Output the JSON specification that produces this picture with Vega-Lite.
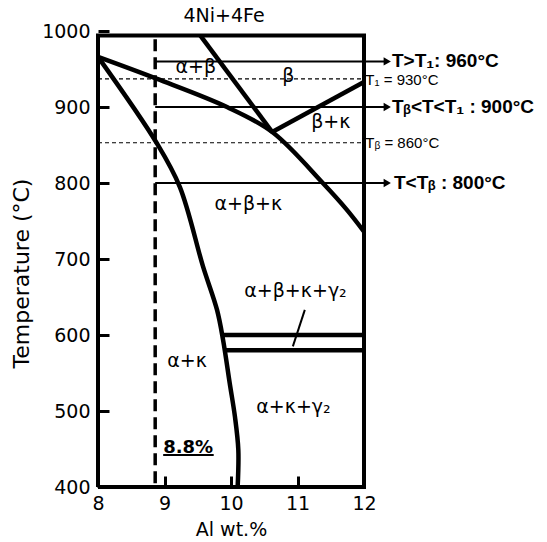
{
  "$schema": "https://vega.github.io/schema/vega-lite/v6.json",
  "width": 266,
  "height": 456,
  "autosize": {"type": "none"},
  "padding": {"left": 98, "top": 31, "right": 183, "bottom": 55},
  "background": "white",
  "title": {"text": "4Ni+4Fe", "font": "DejaVu Sans", "fontSize": 19, "fontWeight": "normal", "color": "black", "anchor": "middle", "offset": -4, "dx": -7},
  "config": {"view": {"stroke": null}},
  "datasets": {
    "frame": [
      {"o": 0, "x": 8, "T": 400}, {"o": 1, "x": 8, "T": 994}, {"o": 2, "x": 12, "T": 994}, {"o": 3, "x": 12, "T": 400}, {"o": 4, "x": 8, "T": 400}
    ],
    "bound": [
      {"id": "A", "o": 0, "x": 8, "T": 966}, {"id": "A", "o": 1, "x": 8.88, "T": 853}, {"id": "A", "o": 2, "x": 9.23, "T": 795}, {"id": "A", "o": 3, "x": 9.58, "T": 690}, {"id": "A", "o": 4, "x": 9.79, "T": 633}, {"id": "A", "o": 5, "x": 9.88, "T": 594}, {"id": "A", "o": 6, "x": 9.98, "T": 537}, {"id": "A", "o": 7, "x": 10.06, "T": 492}, {"id": "A", "o": 8, "x": 10.11, "T": 449}, {"id": "A", "o": 9, "x": 10.1, "T": 400},
      {"id": "B", "o": 0, "x": 8, "T": 966}, {"id": "B", "o": 1, "x": 8.89, "T": 937}, {"id": "B", "o": 2, "x": 9.94, "T": 900}, {"id": "B", "o": 3, "x": 10.62, "T": 867}, {"id": "B", "o": 4, "x": 11.38, "T": 800}, {"id": "B", "o": 5, "x": 11.74, "T": 765}, {"id": "B", "o": 6, "x": 12, "T": 736},
      {"id": "C", "o": 0, "x": 9.54, "T": 994}, {"id": "C", "o": 1, "x": 10.62, "T": 867},
      {"id": "D", "o": 0, "x": 10.62, "T": 867}, {"id": "D", "o": 1, "x": 12, "T": 933},
      {"id": "H600", "o": 0, "x": 9.87, "T": 600}, {"id": "H600", "o": 1, "x": 12, "T": 600},
      {"id": "H580", "o": 0, "x": 9.9, "T": 580}, {"id": "H580", "o": 1, "x": 12, "T": 580}
    ],
    "thin": [
      {"id": "a960", "o": 0, "x": 8.86, "T": 960}, {"id": "a960", "o": 1, "x": 12.32, "T": 960},
      {"id": "a900", "o": 0, "x": 8.86, "T": 900}, {"id": "a900", "o": 1, "x": 12.32, "T": 900},
      {"id": "a800", "o": 0, "x": 8.86, "T": 800}, {"id": "a800", "o": 1, "x": 12.32, "T": 800},
      {"id": "ptr", "o": 0, "x": 11.11, "T": 633}, {"id": "ptr", "o": 1, "x": 10.93, "T": 585},
      {"id": "ul", "o": 0, "x": 8.98, "T": 442}, {"id": "ul", "o": 1, "x": 9.74, "T": 442}
    ],
    "dashT": [
      {"id": "T1", "o": 0, "x": 8, "T": 937}, {"id": "T1", "o": 1, "x": 12, "T": 937},
      {"id": "Tb", "o": 0, "x": 8, "T": 853}, {"id": "Tb", "o": 1, "x": 12, "T": 853}
    ],
    "vdash": [
      {"o": 0, "x": 8.86, "T": 405}, {"o": 1, "x": 8.86, "T": 990}
    ],
    "heads": [
      {"x": 12.35, "T": 960}, {"x": 12.35, "T": 900}, {"x": 12.35, "T": 800}
    ],
    "regions": [
      {"x": 9.47, "T": 945, "label": "α+β"},
      {"x": 10.86, "T": 933, "label": "β"},
      {"x": 11.5, "T": 872, "label": "β+κ"},
      {"x": 10.26, "T": 765, "label": "α+β+κ"},
      {"x": 10.97, "T": 650, "label": "α+β+κ+γ₂"},
      {"x": 9.34, "T": 558, "label": "α+κ"},
      {"x": 10.94, "T": 497, "label": "α+κ+γ₂"}
    ],
    "small": [
      {"x": 12.02, "T": 935, "label": "T₁ = 930°C"},
      {"x": 12.02, "T": 853, "label": "Tᵦ = 860°C"}
    ],
    "bold": [
      {"x": 12.42, "T": 960, "label": "T>T₁: 960°C"},
      {"x": 12.42, "T": 900, "label": "Tᵦ<T<T₁ : 900°C"},
      {"x": 12.45, "T": 800, "label": "T<Tᵦ : 800°C"}
    ],
    "pct": [
      {"x": 8.98, "T": 445, "label": "8.8%"}
    ]
  },
  "encoding": {
    "x": {
      "field": "x", "type": "quantitative",
      "scale": {"domain": [8, 12], "nice": false, "zero": false},
      "axis": {"values": [8, 9, 10, 11, 12], "format": "d", "title": "Al wt.%", "domain": false, "grid": false, "labelFlush": false, "labelOverlap": false,
        "labelFont": "DejaVu Sans", "labelFontSize": 19, "labelColor": "black", "tickSize": -11, "tickWidth": 3, "tickColor": "black", "labelPadding": 18,
        "titleFont": "DejaVu Sans", "titleFontSize": 19, "titleFontWeight": "normal", "titleColor": "black", "titlePadding": 7}
    },
    "y": {
      "field": "T", "type": "quantitative",
      "scale": {"domain": [400, 1000], "nice": false, "zero": false},
      "axis": {"values": [400, 500, 600, 700, 800, 900, 1000], "format": "d", "title": "Temperature (°C)", "domain": false, "grid": false, "labelFlush": false, "labelOverlap": false,
        "labelFont": "DejaVu Sans", "labelFontSize": 19, "labelColor": "black", "tickSize": -11, "tickWidth": 3, "tickColor": "black", "labelPadding": 19,
        "titleFont": "DejaVu Sans", "titleFontSize": 22, "titleFontWeight": "normal", "titleColor": "black", "titlePadding": 8, "titleY": 242}
    }
  },
  "layer": [
    {"data": {"name": "frame"}, "mark": {"type": "line", "color": "black", "strokeWidth": 4, "strokeJoin": "miter"}, "encoding": {"order": {"field": "o"}}},
    {"data": {"name": "bound"}, "mark": {"type": "line", "color": "black", "strokeWidth": 4.5, "interpolate": "catmull-rom", "strokeCap": "butt"}, "encoding": {"detail": {"field": "id"}, "order": {"field": "o"}}},
    {"data": {"name": "thin"}, "mark": {"type": "line", "color": "black", "strokeWidth": 2}, "encoding": {"detail": {"field": "id"}, "order": {"field": "o"}}},
    {"data": {"name": "dashT"}, "mark": {"type": "line", "color": "black", "strokeWidth": 1.1, "strokeDash": [4, 3]}, "encoding": {"detail": {"field": "id"}, "order": {"field": "o"}}},
    {"data": {"name": "vdash"}, "mark": {"type": "line", "color": "black", "strokeWidth": 3.5, "strokeDash": [12, 6]}, "encoding": {"order": {"field": "o"}}},
    {"data": {"name": "heads"}, "mark": {"type": "point", "shape": "triangle-right", "filled": true, "color": "black", "size": 70, "opacity": 1}},
    {"data": {"name": "regions"}, "mark": {"type": "text", "font": "DejaVu Sans", "fontSize": 19, "align": "center", "baseline": "alphabetic", "color": "black"}, "encoding": {"text": {"field": "label"}}},
    {"data": {"name": "small"}, "mark": {"type": "text", "font": "Liberation Sans", "fontSize": 15, "align": "left", "baseline": "middle", "color": "black"}, "encoding": {"text": {"field": "label"}}},
    {"data": {"name": "bold"}, "mark": {"type": "text", "font": "Liberation Sans", "fontSize": 19, "fontWeight": "bold", "align": "left", "baseline": "middle", "color": "black"}, "encoding": {"text": {"field": "label"}}},
    {"data": {"name": "pct"}, "mark": {"type": "text", "font": "DejaVu Sans", "fontSize": 18, "fontWeight": "bold", "align": "left", "baseline": "alphabetic", "color": "black"}, "encoding": {"text": {"field": "label"}}}
  ]
}
